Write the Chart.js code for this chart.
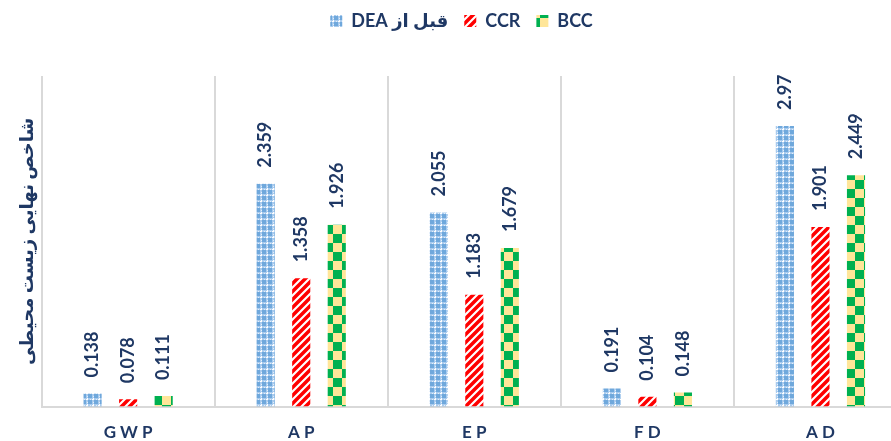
<!DOCTYPE html>
<html>
<head>
<meta charset="utf-8">
<script src="https://cdn.jsdelivr.net/npm/chart.js@4.4.1/dist/chart.umd.min.js"></script>
<style>
  html, body { margin: 0; padding: 0; background: #fff; overflow: hidden; }
  #wrap { width: 920px; height: 441px; }
</style>
</head>
<body>
<div id="wrap"><canvas id="chart" width="920" height="441"></canvas></div>
<script>
// data
var categories = ["GWP", "AP", "EP", "FD", "AD"];
var seriesNames = ["\u202Bقبل از DEA\u202C", "CCR", "BCC"];
var deaValues = [0.138, 2.359, 2.055, 0.191, 2.97];
var ccrValues = [0.078, 1.358, 1.183, 0.104, 1.901];
var bccValues = [0.111, 1.926, 1.679, 0.148, 2.449];
var yTitle = "شاخص نهایی زیست محیطی";

var navy = "#1f3864";
var fontFam = "Lato, 'DejaVu Sans', sans-serif";

// fill patterns
function makeTile(w, h, draw) {
    var c = document.createElement("canvas");
    c.width = w; c.height = h;
    draw(c.getContext("2d"));
    return document.getElementById("chart").getContext("2d").createPattern(c, "repeat");
}

var bluePattern = makeTile(6, 6, function (g) {
    g.fillStyle = "#a9cbee";
    g.fillRect(0, 0, 6, 6);
    g.fillStyle = "#6fa8dc";
    g.fillRect(0, 0, 2, 2);
    g.fillRect(4, 0, 2, 2);
    g.fillRect(0, 4, 2, 2);
    g.fillRect(4, 4, 2, 2);
    g.fillStyle = "#ffffff";
    g.fillRect(2, 3, 2, 1);
    g.fillRect(3, 2, 1, 2);
    g.fillStyle = "#e2eefa";
    g.fillRect(0, 3, 1, 1);
    g.fillRect(3, 0, 1, 1);
});

var redPattern = makeTile(8, 8, function (g) {
    g.fillStyle = "#ffffff";
    g.fillRect(0, 0, 8, 8);
    g.strokeStyle = "#ff0000";
    g.lineWidth = 3.5;
    g.beginPath();
    g.moveTo(-2, 10); g.lineTo(10, -2);
    g.moveTo(-2, 2); g.lineTo(2, -2);
    g.moveTo(6, 10); g.lineTo(10, 6);
    g.stroke();
});

var checkPattern = makeTile(18, 18, function (g) {
    g.fillStyle = "#ffe699";
    g.fillRect(0, 0, 18, 18);
    g.fillStyle = "#00b050";
    g.fillRect(9, 0, 9, 9);
    g.fillRect(0, 9, 9, 9);
});

// rotated value labels above bars
var barLabels = {
    id: "barLabels",
    afterDatasetsDraw: function (chart) {
        var ctx = chart.ctx;
        ctx.save();
        ctx.fillStyle = navy;
        ctx.font = "bold 18px " + fontFam;
        ctx.textAlign = "left";
        ctx.textBaseline = "middle";
        chart.data.datasets.forEach(function (ds, i) {
            chart.getDatasetMeta(i).data.forEach(function (bar, j) {
                ctx.save();
                ctx.translate(bar.x, bar.y - 16);
                ctx.rotate(-Math.PI / 2);
                ctx.fillText(String(ds.data[j]), 0, 0);
                ctx.restore();
            });
        });
        ctx.restore();
    }
};

// extra room under the legend
var legendGap = {
    id: "legendGap",
    beforeInit: function (chart) {
        if (!chart.legend) return;
        var fit = chart.legend.fit;
        chart.legend.fit = function () {
            fit.bind(chart.legend)();
            this.height += 36;
        };
    }
};

var ctx = document.getElementById("chart");
var myChart = new Chart(ctx, {
    type: "bar",
    data: {
        labels: categories,
        datasets: [
            { label: seriesNames[0], data: deaValues, backgroundColor: bluePattern },
            { label: seriesNames[1], data: ccrValues, backgroundColor: redPattern },
            { label: seriesNames[2], data: bccValues, backgroundColor: checkPattern }
        ]
    },
    options: {
        responsive: false,
        animation: false,
        categoryPercentage: 0.616,
        barPercentage: 0.51,
        layout: {
            padding: { left: 16, right: 13, top: -4, bottom: -18 }
        },
        plugins: {
            legend: {
                position: "top",
                labels: {
                    color: navy,
                    font: { family: fontFam, size: 18, weight: "bold" },
                    boxWidth: 12,
                    boxHeight: 12,
                    padding: 16
                }
            },
            tooltip: { enabled: false }
        },
        scales: {
            x: {
                grid: {
                    display: true,
                    offset: true,
                    color: "#d9d9d9",
                    lineWidth: 2,
                    drawTicks: false
                },
                border: { display: true, color: "#d9d9d9", width: 2 },
                ticks: {
                    color: navy,
                    font: { family: fontFam, size: 17, weight: "bold" },
                    padding: 16,
                    callback: function (v, i) { return categories[i].split("").join(" "); }
                }
            },
            y: {
                min: 0,
                max: 3.5,
                grid: { display: false, drawTicks: false },
                border: { display: false },
                ticks: { display: false },
                title: {
                    display: true,
                    text: yTitle,
                    color: navy,
                    font: { family: fontFam, size: 18, weight: "bold" },
                    padding: { top: 0, bottom: 4 }
                }
            }
        }
    },
    plugins: [barLabels, legendGap]
});
</script>
</body>
</html>
